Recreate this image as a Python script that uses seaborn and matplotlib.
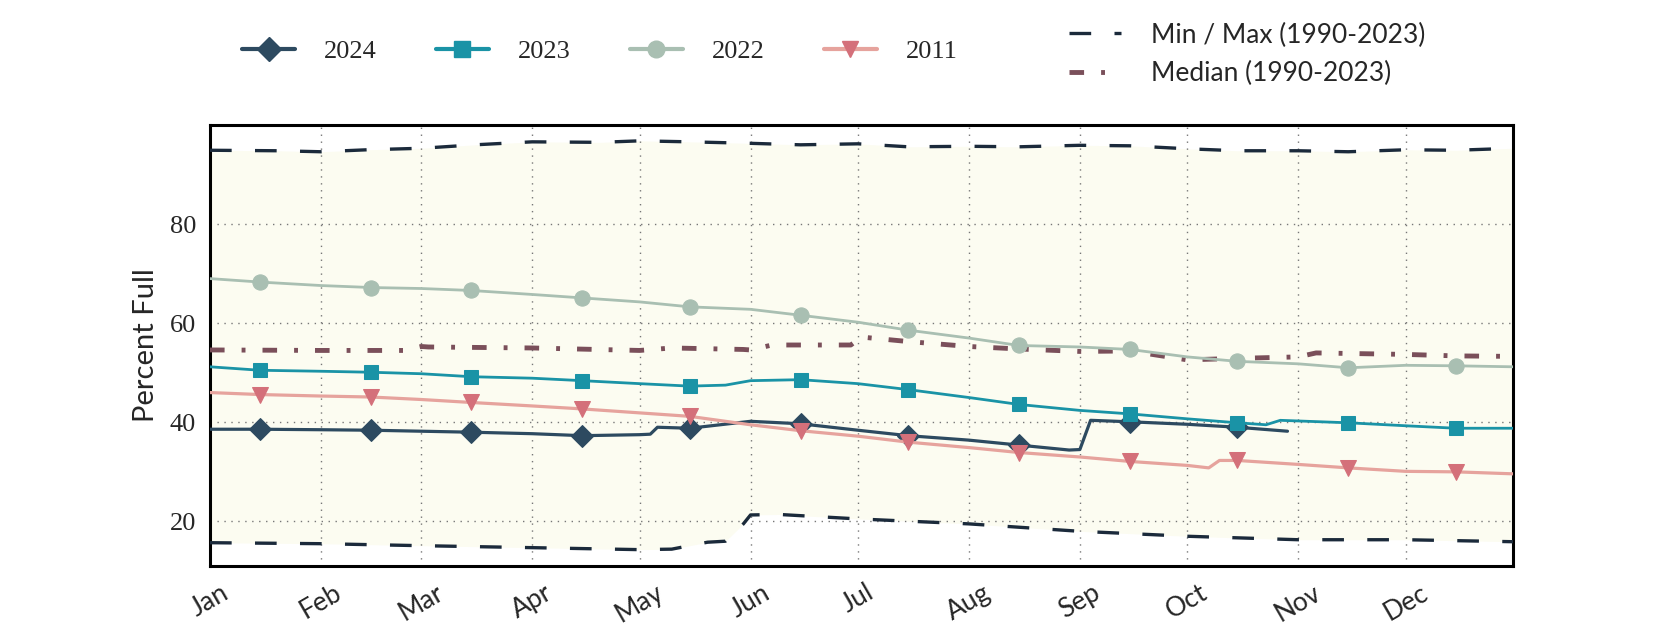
import numpy as np
import pandas as pd
import matplotlib
matplotlib.use("Agg")
import matplotlib.pyplot as plt
import seaborn as sns
from matplotlib.lines import Line2D

# ------- DATA (day of year, percent full) ---------
month_starts = [1, 32, 60, 91, 121, 152, 182, 213, 244, 274, 305, 335]
month_labels = ["Jan", "Feb", "Mar", "Apr", "May", "Jun",
                "Jul", "Aug", "Sep", "Oct", "Nov", "Dec"]
mid_months = [15, 46, 74, 105, 135, 166, 196, 227, 258, 288, 319, 349]

days_2024 = [1, 15, 32, 46, 60, 74, 91, 105, 121, 124, 126, 135, 152, 166,
             182, 196, 213, 227, 241, 244, 247, 258, 274, 288, 302]
pct_2024 = [38.6, 38.6, 38.5, 38.4, 38.2, 38.0, 37.7, 37.3, 37.5, 37.6, 39.0,
            38.8, 40.2, 39.7, 38.4, 37.3, 36.4, 35.4, 34.4, 34.5, 40.4, 40.1,
            39.6, 39.0, 38.2]

days_2023 = [1, 15, 32, 46, 60, 74, 91, 105, 121, 135, 145, 152, 166, 182,
             196, 213, 227, 244, 258, 274, 288, 296, 300, 319, 335, 349, 365]
pct_2023 = [51.2, 50.5, 50.3, 50.1, 49.8, 49.2, 48.9, 48.4, 47.8, 47.3, 47.5,
            48.4, 48.6, 47.8, 46.6, 45.0, 43.6, 42.4, 41.7, 40.7, 39.9, 39.5,
            40.4, 39.9, 39.3, 38.8, 38.8]

days_2022 = [1, 15, 32, 46, 60, 74, 91, 105, 121, 135, 152, 166, 182, 196,
             213, 227, 244, 258, 274, 288, 305, 319, 335, 349, 365]
pct_2022 = [69.0, 68.3, 67.6, 67.2, 67.0, 66.6, 65.8, 65.1, 64.3, 63.3, 62.8,
            61.6, 60.2, 58.6, 57.0, 55.5, 55.2, 54.7, 53.2, 52.3, 51.8, 51.0,
            51.5, 51.4, 51.2]

days_2011 = [1, 15, 32, 46, 60, 74, 91, 105, 121, 135, 152, 166, 182, 196,
             213, 227, 244, 258, 274, 280, 283, 288, 305, 319, 335, 349, 365]
pct_2011 = [46.0, 45.6, 45.3, 45.1, 44.6, 44.0, 43.3, 42.7, 41.9, 41.2, 39.5,
            38.3, 37.2, 36.0, 34.9, 33.9, 33.0, 32.1, 31.3, 30.8, 32.3, 32.3,
            31.5, 30.8, 30.1, 30.0, 29.6]

days_median = [1, 32, 55, 60, 62, 91, 121, 130, 150, 152, 158, 180, 183, 196,
               213, 227, 244, 258, 274, 288, 305, 310, 335, 349, 365]
pct_median = [54.6, 54.5, 54.5, 55.3, 55.2, 55.0, 54.5, 55.0, 54.7, 54.6, 55.6,
              55.6, 57.2, 56.3, 55.3, 54.8, 54.3, 54.4, 52.6, 52.9, 53.2, 54.0,
              53.7, 53.4, 53.3]

days_max = [1, 20, 32, 45, 60, 75, 91, 110, 121, 135, 152, 166, 182, 196, 213,
            227, 244, 258, 274, 288, 305, 319, 335, 349, 365]
pct_max = [94.9, 94.8, 94.6, 95.0, 95.3, 96.0, 96.6, 96.5, 96.8, 96.6, 96.3,
           96.0, 96.2, 95.6, 95.7, 95.6, 95.9, 95.8, 95.2, 94.8, 94.8, 94.6,
           95.0, 94.9, 95.3]

days_min = [1, 32, 60, 91, 121, 130, 140, 145, 150, 152, 160, 182, 213, 244,
            274, 305, 335, 365]
pct_min = [15.7, 15.5, 15.1, 14.7, 14.3, 14.4, 15.8, 16.0, 19.5, 21.3, 21.4,
           20.5, 19.5, 18.0, 17.0, 16.3, 16.3, 15.9]

# ------- STYLE ---------
sns.set_theme(style="white")
plt.rcParams["font.family"] = ["Lato", "DejaVu Sans"]

ENV_COLOR = "#1b2a3b"
MED_COLOR = "#7a4f5a"
ENV_DASH = (0, (6.5, 7))
MED_DASH = (0, (3, 3.5, 0.8, 3.5))

fig = plt.figure(figsize=(16.8, 6.3), dpi=100)
ax = fig.add_axes([0.125, 0.1016, 0.7756, 0.7])

# envelope between min and max
env_days = sorted(set(days_max) | set(days_min))
ax.fill_between(env_days, np.interp(env_days, days_min, pct_min),
                np.interp(env_days, days_max, pct_max),
                color="#fcfcf1", zorder=0, linewidth=0)

def marker_idx(days):
    return [i for i, d in enumerate(days) if d in mid_months]

series = [
    ("2024", days_2024, pct_2024, "#2d4a60", "#2d4a60", "D", 2.3, 11),
    ("2023", days_2023, pct_2023, "#1a93a6", "#1a93a6", "s", 2.0, 10.5),
    ("2022", days_2022, pct_2022, "#a9bfb2", "#a9bfb2", "o", 2.0, 11),
    ("2011", days_2011, pct_2011, "#e6a39d", "#d4707a", "v", 2.3, 11),
]

sns.lineplot(x=days_max, y=pct_max, ax=ax, color=ENV_COLOR, lw=2.4,
             linestyle=ENV_DASH, legend=False, zorder=3)
sns.lineplot(x=days_min, y=pct_min, ax=ax, color=ENV_COLOR, lw=2.4,
             linestyle=ENV_DASH, legend=False, zorder=3)
sns.lineplot(x=days_median, y=pct_median, ax=ax, color=MED_COLOR, lw=3.5,
             linestyle=MED_DASH, legend=False, zorder=3)

for name, d, v, lc, mc, mk, lw, ms in series:
    sns.lineplot(x=d, y=v, ax=ax, color=lc, lw=lw, marker=mk,
                 markevery=marker_idx(d), markersize=ms,
                 markerfacecolor=mc, markeredgecolor=mc, legend=False, zorder=4)

ax.set_xlim(1, 365)
ax.set_ylim(11, 100)
ax.set_xticks(month_starts)
ax.set_xticklabels(month_labels, rotation=30, ha="center", fontsize=19)
ax.set_yticks([20, 40, 60, 80])
ax.set_yticklabels(["20", "40", "60", "80"], fontsize=19,
                   family=["Liberation Serif"])
ax.set_ylabel("Percent Full", fontsize=21, labelpad=8)
ax.set_xlabel("")
ax.grid(True, color="#777777", linestyle=(0, (1, 4)), linewidth=1.0)
ax.tick_params(axis="x", length=0, pad=10)
ax.tick_params(axis="y", length=0, pad=10)
for s in ax.spines.values():
    s.set_color("black")
    s.set_linewidth(2.2)

# ------- LEGENDS ---------
h1 = [Line2D([], [], color=lc, lw=3, marker=mk, markersize=ms + 1,
             markerfacecolor=mc, markeredgecolor=mc)
      for name, d, v, lc, mc, mk, lw, ms in series]
fig.legend(h1, [s[0] for s in series], loc="center left",
           bbox_to_anchor=(0.13, 0.919), ncol=4, frameon=False,
           handlelength=2.0, handletextpad=1.1, columnspacing=2.25,
           prop={"family": "Liberation Serif", "size": 19})
h2 = [Line2D([], [], color=ENV_COLOR, lw=2.4, linestyle=ENV_DASH),
      Line2D([], [], color=MED_COLOR, lw=3.5, linestyle=MED_DASH)]
fig.legend(h2, ["Min / Max (1990-2023)", "Median (1990-2023)"],
           loc="center left", bbox_to_anchor=(0.622, 0.914),
           frameon=False, handlelength=2.0, handletextpad=1.1,
           labelspacing=0.5, prop={"size": 19})

fig.savefig("out.png", dpi=100)
